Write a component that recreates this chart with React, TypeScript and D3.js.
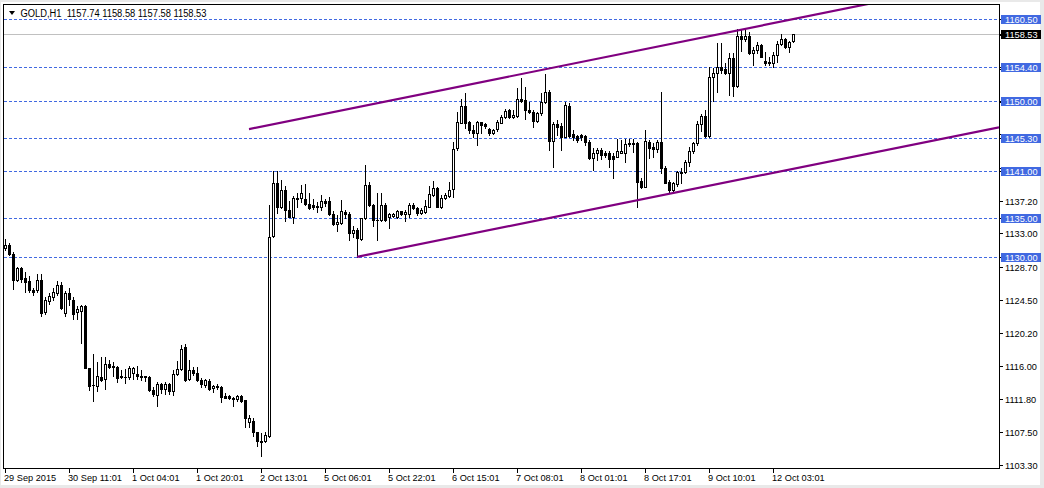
import React from 'react';
import * as d3 from 'd3';

const W = 1044;
const H = 488;

const openP = [
  1131.19, 1131.51, 1130.42, 1127.08, 1128.56, 1127.28, 1126.89, 1125.74, 1125.68, 1127.02,
  1122.86, 1124.33, 1124.91, 1125.42, 1126.38, 1122.79, 1125.36, 1124.46, 1122.86, 1123.11,
  1123.69, 1115.68, 1113.51, 1113.45, 1114.60, 1114.28, 1116.25, 1115.94, 1115.87, 1114.67,
  1114.62, 1114.60, 1115.10, 1115.00, 1114.74, 1114.67, 1114.60, 1112.92, 1112.22, 1113.69,
  1113.04, 1113.69, 1112.73, 1115.00, 1115.56, 1118.44, 1114.28, 1115.49, 1115.04, 1114.21,
  1113.51, 1114.08, 1113.13, 1113.43, 1113.24, 1112.15, 1112.09, 1111.90, 1111.73, 1112.19,
  1111.58, 1108.86, 1108.99, 1107.47, 1106.44, 1106.42, 1107.02, 1132.66, 1139.52, 1136.42,
  1138.56, 1136.00, 1135.13, 1137.50, 1137.50, 1137.41, 1136.77, 1136.64, 1136.42, 1136.42,
  1137.15, 1137.15, 1135.45, 1134.20, 1134.29, 1135.78, 1135.45, 1133.03, 1133.46, 1132.33,
  1134.94, 1139.20, 1136.64, 1134.71, 1134.71, 1136.64, 1135.13, 1135.29, 1135.13, 1135.87,
  1135.45, 1135.45, 1136.64, 1136.22, 1135.59, 1135.71, 1136.42, 1137.92, 1138.78, 1136.42,
  1137.50, 1137.79, 1138.65, 1143.91, 1147.20, 1149.33, 1147.33, 1146.26, 1145.92, 1147.25,
  1146.98, 1146.35, 1145.87, 1146.35, 1147.20, 1147.89, 1148.82, 1147.89, 1148.05, 1150.19,
  1150.10, 1148.82, 1148.60, 1147.46, 1148.39, 1149.81, 1151.16, 1144.81, 1147.02, 1146.77,
  1145.40, 1149.33, 1145.74, 1145.49, 1145.61, 1145.49, 1144.75, 1142.63, 1143.34, 1143.69,
  1143.27, 1143.27, 1142.92, 1142.83, 1143.34, 1143.34, 1144.63, 1144.55, 1144.63, 1139.75,
  1138.99, 1144.75, 1144.04, 1143.78, 1144.75, 1141.34, 1139.63, 1138.56, 1139.33, 1140.91,
  1140.91, 1142.19, 1143.60, 1144.63, 1147.02, 1148.05, 1145.49, 1153.01, 1153.60, 1154.29,
  1154.04, 1153.60, 1155.45, 1151.89, 1158.30, 1157.88, 1158.30, 1156.09, 1156.51, 1157.15,
  1155.14, 1155.01, 1154.80, 1155.87, 1157.28, 1157.88, 1156.86, 1157.74,
];

const highP = [
  1132.28, 1131.83, 1130.61, 1128.69, 1128.75, 1127.99, 1127.54, 1126.06, 1127.79, 1127.79,
  1124.85, 1125.36, 1126.06, 1126.89, 1126.77, 1125.61, 1126.06, 1124.85, 1123.69, 1123.82,
  1123.76, 1115.74, 1117.54, 1116.51, 1117.09, 1117.15, 1116.77, 1116.57, 1116.00, 1115.49,
  1115.56, 1115.94, 1115.87, 1115.94, 1115.43, 1114.74, 1114.74, 1113.24, 1113.89, 1113.82,
  1113.98, 1113.85, 1115.49, 1116.64, 1118.69, 1118.88, 1116.77, 1115.81, 1115.87, 1114.40,
  1114.28, 1114.28, 1113.56, 1113.65, 1113.37, 1112.50, 1112.22, 1112.06, 1112.28, 1112.28,
  1111.64, 1109.72, 1109.30, 1107.57, 1107.37, 1107.57, 1136.64, 1141.04, 1141.04, 1139.84,
  1139.07, 1137.19, 1137.79, 1138.14, 1139.20, 1139.33, 1138.22, 1137.37, 1137.06, 1137.92,
  1137.41, 1137.63, 1135.87, 1135.36, 1137.28, 1136.00, 1135.78, 1133.89, 1133.68, 1134.97,
  1141.77, 1139.59, 1136.77, 1138.14, 1138.18, 1136.90, 1135.65, 1135.65, 1136.00, 1135.91,
  1136.00, 1136.87, 1136.87, 1136.42, 1136.22, 1137.28, 1139.07, 1139.75, 1138.99, 1137.92,
  1138.18, 1139.59, 1144.75, 1148.60, 1150.19, 1150.96, 1147.46, 1146.89, 1147.46, 1147.33,
  1147.20, 1146.48, 1146.35, 1147.54, 1148.18, 1148.91, 1148.91, 1148.82, 1151.60, 1152.88,
  1151.80, 1149.88, 1148.82, 1148.60, 1150.96, 1153.43, 1151.38, 1147.33, 1147.54, 1147.11,
  1149.88, 1149.68, 1146.26, 1145.61, 1145.74, 1145.61, 1144.97, 1143.91, 1143.91, 1143.91,
  1143.60, 1143.60, 1143.27, 1145.06, 1144.97, 1145.06, 1145.06, 1145.06, 1144.75, 1140.06,
  1146.26, 1144.97, 1144.63, 1144.97, 1151.16, 1141.64, 1139.84, 1139.63, 1141.04, 1141.34,
  1142.41, 1144.04, 1144.75, 1147.46, 1148.31, 1148.82, 1154.37, 1154.16, 1157.45, 1157.45,
  1154.80, 1156.09, 1156.09, 1159.16, 1159.16, 1159.16, 1158.86, 1156.86, 1157.57, 1157.28,
  1156.29, 1155.65, 1156.29, 1157.70, 1158.56, 1158.01, 1157.70, 1158.58,
];

const lowP = [
  1130.87, 1130.23, 1125.87, 1126.89, 1126.77, 1125.55, 1125.55, 1125.10, 1125.55, 1122.47,
  1122.73, 1124.01, 1124.46, 1125.10, 1123.37, 1122.47, 1123.82, 1122.02, 1122.02, 1118.95,
  1115.68, 1112.86, 1111.45, 1112.73, 1114.08, 1113.04, 1115.74, 1114.67, 1113.89, 1114.46,
  1113.82, 1114.33, 1114.33, 1114.33, 1114.21, 1114.01, 1112.79, 1112.09, 1110.81, 1112.54,
  1112.41, 1112.41, 1112.22, 1114.87, 1115.49, 1114.01, 1114.21, 1114.87, 1114.01, 1113.24,
  1113.35, 1112.98, 1112.70, 1113.01, 1111.32, 1111.86, 1111.77, 1110.81, 1111.55, 1111.42,
  1108.22, 1108.22, 1106.96, 1105.74, 1104.40, 1106.29, 1106.85, 1132.50, 1135.65, 1136.22,
  1134.63, 1135.10, 1134.40, 1136.42, 1137.06, 1136.64, 1136.09, 1136.09, 1135.78, 1136.00,
  1136.51, 1135.36, 1134.07, 1133.33, 1134.20, 1134.94, 1132.16, 1132.59, 1130.01, 1132.20,
  1134.91, 1136.51, 1133.94, 1132.15, 1134.58, 1134.58, 1133.64, 1135.13, 1134.94, 1135.36,
  1134.63, 1135.13, 1136.09, 1135.36, 1135.49, 1135.59, 1136.34, 1137.79, 1136.34, 1136.22,
  1137.41, 1137.66, 1137.70, 1143.69, 1147.11, 1146.48, 1145.87, 1145.40, 1144.33, 1145.87,
  1146.48, 1145.61, 1145.74, 1146.16, 1147.11, 1147.76, 1147.76, 1147.76, 1147.96, 1149.88,
  1147.63, 1148.39, 1146.68, 1147.33, 1148.18, 1149.68, 1143.65, 1141.55, 1145.61, 1143.69,
  1145.32, 1145.40, 1144.97, 1144.75, 1144.97, 1144.33, 1142.50, 1141.13, 1142.41, 1142.50,
  1142.83, 1141.55, 1140.06, 1142.79, 1143.27, 1142.19, 1144.20, 1143.47, 1136.42, 1138.78,
  1138.91, 1142.63, 1142.83, 1143.47, 1140.70, 1139.42, 1138.35, 1138.35, 1139.07, 1139.50,
  1140.78, 1141.64, 1143.34, 1144.33, 1146.16, 1145.40, 1145.32, 1150.01, 1151.16, 1153.60,
  1153.43, 1150.74, 1150.61, 1151.73, 1156.42, 1157.70, 1155.99, 1154.59, 1156.09, 1155.57,
  1154.59, 1154.59, 1154.37, 1155.01, 1157.15, 1156.73, 1156.29, 1157.58,
];

const closeP = [
  1131.51, 1130.42, 1127.02, 1128.56, 1127.21, 1126.77, 1125.68, 1125.49, 1127.02, 1122.79,
  1124.40, 1124.97, 1125.55, 1126.38, 1123.43, 1125.42, 1124.59, 1122.67, 1123.31, 1123.69,
  1115.74, 1113.38, 1113.58, 1114.67, 1114.21, 1116.25, 1115.81, 1115.87, 1114.46, 1114.62,
  1114.55, 1115.68, 1115.68, 1114.67, 1114.53, 1114.53, 1112.92, 1112.35, 1113.69, 1113.04,
  1113.69, 1112.73, 1115.00, 1115.56, 1118.24, 1114.14, 1115.49, 1115.04, 1114.21, 1113.69,
  1114.14, 1113.11, 1113.43, 1113.24, 1111.96, 1111.90, 1111.86, 1111.77, 1112.19, 1111.55,
  1109.30, 1109.30, 1107.47, 1106.32, 1106.29, 1107.15, 1132.50, 1139.42, 1136.42, 1138.56,
  1136.00, 1135.13, 1137.50, 1137.37, 1138.14, 1136.73, 1136.29, 1136.42, 1136.57, 1137.15,
  1136.93, 1135.45, 1134.20, 1134.50, 1135.87, 1135.45, 1133.03, 1133.46, 1132.41, 1134.94,
  1139.20, 1136.64, 1134.71, 1134.68, 1136.64, 1134.71, 1135.48, 1135.48, 1135.87, 1135.45,
  1135.71, 1136.64, 1136.22, 1135.59, 1136.00, 1136.51, 1138.05, 1138.78, 1136.42, 1137.50,
  1137.92, 1138.56, 1143.78, 1147.33, 1149.33, 1147.20, 1146.26, 1145.92, 1147.33, 1146.89,
  1146.77, 1145.87, 1146.26, 1147.25, 1147.89, 1148.73, 1147.89, 1148.18, 1150.19, 1150.01,
  1148.82, 1148.52, 1147.46, 1148.47, 1149.88, 1151.16, 1144.81, 1147.02, 1146.68, 1145.40,
  1149.46, 1145.49, 1145.40, 1144.97, 1145.32, 1144.75, 1142.63, 1143.34, 1143.69, 1143.05,
  1143.05, 1142.50, 1142.50, 1143.60, 1143.60, 1144.46, 1144.42, 1144.46, 1139.63, 1138.99,
  1144.88, 1143.91, 1143.78, 1144.75, 1141.34, 1139.50, 1138.56, 1139.42, 1140.91, 1140.78,
  1142.19, 1143.60, 1144.55, 1147.02, 1148.05, 1145.49, 1153.01, 1153.60, 1154.37, 1153.95,
  1153.60, 1155.45, 1151.89, 1158.30, 1157.88, 1158.30, 1156.09, 1156.51, 1157.15, 1155.65,
  1154.88, 1154.80, 1155.87, 1157.28, 1157.88, 1156.86, 1157.57, 1158.53,
];

const xLabels = [
  '29 Sep 2015', '30 Sep 11:01', '1 Oct 04:01', '1 Oct 20:01', '2 Oct 13:01', '5 Oct 06:01',
  '5 Oct 22:01', '6 Oct 15:01', '7 Oct 08:01', '8 Oct 01:01', '8 Oct 17:01', '9 Oct 10:01',
  '12 Oct 03:01',
];
const barsPerLabel = 16;

const yTickValues = [
  1103.3, 1107.5, 1111.8, 1116.0, 1120.2, 1124.5, 1128.7, 1133.0, 1137.2, 1141.4, 1145.7,
  1149.9, 1154.1, 1158.4,
];

const levelValues = [1160.5, 1154.4, 1150.0, 1145.3, 1141.0, 1135.0, 1130.0];
const bidPrice = 1158.53;

const upperTrendBars = [61, 183];
const upperTrendPrices = [1146.38, 1159.03];
const lowerTrendBars = [88, 168];
const lowerTrendPrices = [1130.0, 1138.28];

const symbolTitle = 'GOLD,H1';

const FONT = "'Liberation Sans', Arial, sans-serif";
const BLUE = '#4169E1';
const PURPLE = '#800080';

const PL = 3;
const PT = 4;
const PR = 999;
const PB = 468;

export default function App() {
  const lastBar = 248.5;
  const x = d3.scaleLinear().domain([0, lastBar]).range([5, PR]);
  const y = d3.scaleLinear().domain([1103.3, 1160.5]).range([465, 19]);

  const n = closeP.length;
  const candles = d3.range(n).map((i) => {
    const cx = Math.round(x(i));
    const yo = Math.round(y(openP[i]));
    const yc = Math.round(y(closeP[i]));
    const yh = Math.round(y(highP[i]));
    const yl = Math.round(y(lowP[i]));
    const top = Math.min(yo, yc);
    const bot = Math.max(yo, yc);
    const bull = closeP[i] >= openP[i];
    return (
      <g key={i}>
        <line x1={cx + 0.5} x2={cx + 0.5} y1={yh} y2={yl + 1} stroke="#000" strokeWidth={1} />
        {bot - top < 1 ? (
          <line x1={cx - 1} x2={cx + 2} y1={top + 0.5} y2={top + 0.5} stroke="#000" strokeWidth={1} />
        ) : (
          <rect
            x={cx - 1 + 0.5}
            y={top + 0.5}
            width={2}
            height={bot - top}
            fill={bull ? '#fff' : '#000'}
            stroke="#000"
            strokeWidth={1}
          />
        )}
      </g>
    );
  });

  const trendLine = (bars: number[], prices: number[]) => {
    const slope = (prices[1] - prices[0]) / (bars[1] - bars[0]);
    const endPrice = prices[0] + slope * (lastBar - bars[0]);
    const line = d3.line<[number, number]>().x((d) => x(d[0])).y((d) => y(d[1]));
    return line([
      [bars[0], prices[0]],
      [lastBar, endPrice],
    ]) as string;
  };

  const crisp = (v: number) => Math.round(v) + 0.5;

  const title = `${symbolTitle}  ${openP[n - 1].toFixed(2)} ${highP[n - 1].toFixed(2)} ${lowP[n - 1].toFixed(2)} ${closeP[n - 1].toFixed(2)}`;

  const boxed = [...levelValues, bidPrice].map((v) => Math.round(y(v)));
  const hiddenByBox = (yy: number) => boxed.some((b) => Math.abs(b - yy) < 9);

  return (
    <div style={{ position: 'absolute', left: 0, top: 0 }}>
      <svg width={W} height={H} style={{ display: 'block' }} fontFamily={FONT}>
        <defs>
          <clipPath id="plotClip">
            <rect x={PL + 1} y={PT + 1} width={PR - PL - 1} height={PB - PT - 1} />
          </clipPath>
        </defs>
        <rect x={0} y={0} width={W} height={H} fill="#e9e9e9" />
        <rect x={1} y={2} width={1039} height={483} fill="#fff" />

        {/* horizontal levels */}
        {levelValues.map((v) => (
          <line
            key={v}
            x1={PL + 1}
            x2={PR}
            y1={crisp(y(v))}
            y2={crisp(y(v))}
            stroke={BLUE}
            strokeWidth={1}
            strokeDasharray="3,2"
            shapeRendering="crispEdges"
          />
        ))}
        <line
          x1={PL + 1}
          x2={PR}
          y1={crisp(y(bidPrice))}
          y2={crisp(y(bidPrice))}
          stroke="#c0c0c0"
          strokeWidth={1}
          shapeRendering="crispEdges"
        />

        {/* candles */}
        <g shapeRendering="crispEdges" clipPath="url(#plotClip)">{candles}</g>

        {/* trend lines */}
        <g clipPath="url(#plotClip)">
          <path d={trendLine(upperTrendBars, upperTrendPrices)} stroke={PURPLE} strokeWidth={2.2} fill="none" />
          <path d={trendLine(lowerTrendBars, lowerTrendPrices)} stroke={PURPLE} strokeWidth={2.2} fill="none" />
        </g>

        {/* frame */}
        <rect
          x={PL + 0.5}
          y={PT + 0.5}
          width={PR - PL}
          height={PB - PT}
          fill="none"
          stroke="#000"
          strokeWidth={1}
          shapeRendering="crispEdges"
        />

        {/* right axis */}
        {yTickValues.map((v) => {
          const yy = Math.round(y(v));
          return (
            <g key={v}>
              <line x1={PR + 1} x2={PR + 4} y1={yy + 0.5} y2={yy + 0.5} stroke="#000" shapeRendering="crispEdges" />
              {!hiddenByBox(yy) && (
                <text x={1005} y={yy + 3.5} fontSize={9.2} fill="#000">
                  {v.toFixed(2)}
                </text>
              )}
            </g>
          );
        })}
        {levelValues.map((v) => {
          const yy = Math.round(y(v));
          return (
            <g key={'b' + v}>
              <line x1={PR + 1} x2={PR + 4} y1={yy + 0.5} y2={yy + 0.5} stroke="#000" shapeRendering="crispEdges" />
              <rect x={1001} y={yy - 4} width={40} height={9} fill={BLUE} />
              <text x={1005} y={yy + 3.5} fontSize={9.2} fill="#fff">
                {v.toFixed(2)}
              </text>
            </g>
          );
        })}
        {(() => {
          const yy = Math.round(y(bidPrice));
          return (
            <g>
              <line x1={PR + 1} x2={PR + 4} y1={yy + 0.5} y2={yy + 0.5} stroke="#000" shapeRendering="crispEdges" />
              <rect x={1001} y={yy - 4} width={40} height={9} fill="#000" />
              <text x={1005} y={yy + 3.5} fontSize={9.2} fill="#fff">
                {bidPrice.toFixed(2)}
              </text>
            </g>
          );
        })()}

        {/* bottom axis */}
        {xLabels.map((lab, k) => {
          const xx = Math.round(x(k * barsPerLabel));
          return (
            <g key={lab}>
              <line x1={xx + 0.5} x2={xx + 0.5} y1={PB + 1} y2={PB + 5} stroke="#000" shapeRendering="crispEdges" />
              <text x={xx - 1} y={481} fontSize={9.2} fill="#000">
                {lab}
              </text>
            </g>
          );
        })}

        {/* header */}
        <path d="M9,11 L15,11 L12,15 Z" fill="#000" />
        <text
          x={20.5}
          y={16.5}
          fontSize={10}
          fill="#000"
          textLength={186}
          lengthAdjust="spacingAndGlyphs"
          style={{ whiteSpace: 'pre' }}
        >
          {title}
        </text>
      </svg>
    </div>
  );
}
